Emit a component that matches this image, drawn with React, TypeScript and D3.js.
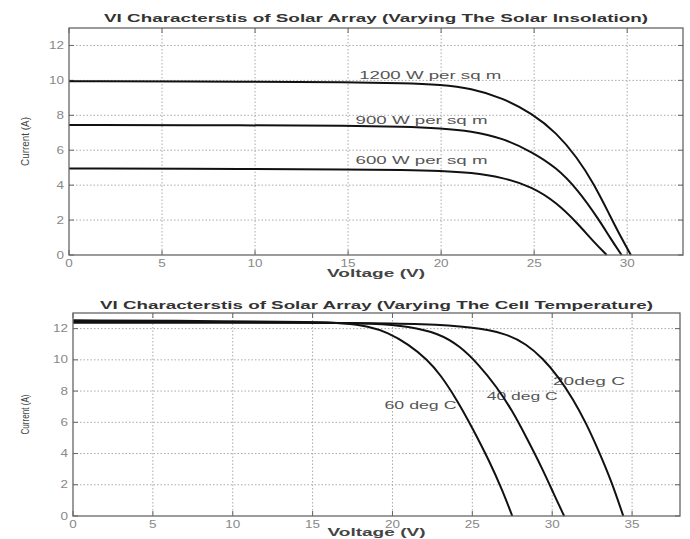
import React from 'react';
import * as d3 from 'd3';

// ---------- data ----------
// Top panel: varying insolation (Voltage V, Current A)
const insolationNames = ['1200 W per sq m', '900 W per sq m', '600 W per sq m'];
const v1200 = [0, 10, 15, 18, 20, 21.6, 23.3, 24.9, 26.2, 27.3, 28.2, 29.1, 29.7, 30.2];
const i1200 = [9.95, 9.93, 9.9, 9.85, 9.75, 9.55, 9.0, 8.1, 7.0, 5.6, 4.1, 2.2, 0.95, 0];
const v900 = [0, 10, 15, 18, 20, 21.6, 23.3, 24.9, 26.2, 27.3, 28.5, 29.1, 29.7];
const i900 = [7.45, 7.43, 7.4, 7.35, 7.25, 7.1, 6.7, 5.9, 5.0, 3.8, 2.0, 0.95, 0];
const v600 = [0, 10, 15, 18, 20, 21.6, 23.3, 24.9, 26.2, 27.3, 28.2, 28.9];
const i600 = [4.95, 4.93, 4.9, 4.87, 4.82, 4.72, 4.45, 3.9, 3.0, 1.85, 0.75, 0];

// Bottom panel: varying cell temperature
const temperatureNames = ['20deg C', '40 deg C', '60 deg C'];
const v20 = [0, 10, 18, 22, 25, 27.1, 28.4, 29.4, 30.4, 31.3, 32.1, 32.9, 33.7, 34.45];
const i20 = [12.38, 12.38, 12.37, 12.3, 12.1, 11.7, 11.0, 10.1, 8.9, 7.5, 6.0, 4.2, 2.25, 0];
const v40 = [0, 10, 15, 19, 21, 22.9, 24.2, 25.4, 26.5, 27.5, 28.4, 29.4, 30.1, 30.75];
const i40 = [12.45, 12.43, 12.4, 12.33, 12.15, 11.7, 10.9, 9.7, 8.3, 6.75, 5.0, 3.0, 1.4, 0];
const v60 = [0, 10, 15, 17, 18.5, 19.7, 21, 22.2, 23.0, 24.0, 25.0, 26.1, 26.9, 27.5];
const i60 = [12.53, 12.48, 12.42, 12.35, 12.15, 11.75, 11.0, 10.0, 9.05, 7.5, 5.65, 3.45, 1.6, 0];

const xTicksTop = [0, 5, 10, 15, 20, 25, 30];
const xTicksBottom = [0, 5, 10, 15, 20, 25, 30, 35];
const yTicks = [0, 2, 4, 6, 8, 10, 12];

const zip = (v: number[], c: number[]) => v.map((x, k) => [x, c[k]] as [number, number]);

type LabelPos = { name: string; v: number; i: number; len: number };

type PanelProps = {
  left: number; right: number; top: number; bottom: number;
  xMax: number; yMax: number; xTicks: number[];
  title: string; titleLen: number; titleY: number;
  xLabelY: number; yLabelLen: number;
  series: [number, number][][];
  labels: LabelPos[];
};

const FONT = '"Liberation Sans", Arial, Helvetica, sans-serif';

function Panel(p: PanelProps) {
  const x = d3.scaleLinear().domain([0, p.xMax]).range([p.left, p.right]);
  const y = d3.scaleLinear().domain([0, p.yMax]).range([p.bottom, p.top]);
  const line = d3.line<[number, number]>().x(d => x(d[0])).y(d => y(d[1])).curve(d3.curveBasis);
  const cx = (p.left + p.right) / 2;
  const cy = (p.top + p.bottom) / 2;
  const tickLen = 5;
  return (
    <g fontFamily={FONT}>
      <text x={cx} y={p.titleY} textAnchor="middle" fontSize={11} fontWeight="bold" fill="#333"
        textLength={p.titleLen} lengthAdjust="spacingAndGlyphs">{p.title}</text>
      {/* grid */}
      {p.xTicks.filter(t => t > 0).map(t => (
        <line key={'gx' + t} x1={x(t)} x2={x(t)} y1={p.top} y2={p.bottom} stroke="#aaa" strokeWidth={1} strokeDasharray="1.5,2" />
      ))}
      {yTicks.filter(t => t > 0).map(t => (
        <line key={'gy' + t} x1={p.left} x2={p.right} y1={y(t)} y2={y(t)} stroke="#aaa" strokeWidth={1} strokeDasharray="1.5,2" />
      ))}
      {/* ticks */}
      {p.xTicks.map(t => (
        <g key={'tx' + t}>
          <line x1={x(t)} x2={x(t)} y1={p.bottom} y2={p.bottom - tickLen} stroke="#666" />
          <line x1={x(t)} x2={x(t)} y1={p.top} y2={p.top + tickLen} stroke="#666" />
          <text transform={`translate(${x(t)},${p.bottom + 12}) scale(1.35,1)`} textAnchor="middle" fontSize={10} fill="#888">{t}</text>
        </g>
      ))}
      {yTicks.map(t => (
        <g key={'ty' + t}>
          <line x1={p.left} x2={p.left + tickLen} y1={y(t)} y2={y(t)} stroke="#666" />
          <line x1={p.right} x2={p.right - tickLen} y1={y(t)} y2={y(t)} stroke="#666" />
          <text transform={`translate(${p.left - 5},${y(t) + 3.5}) scale(1.35,1)`} textAnchor="end" fontSize={10} fill="#888">{t}</text>
        </g>
      ))}
      {/* curve labels */}
      {p.labels.map(l => (
        <text key={l.name} x={x(l.v)} y={y(l.i)} fontSize={11} fill="#555" textLength={l.len} lengthAdjust="spacingAndGlyphs">{l.name}</text>
      ))}
      {/* curves */}
      {p.series.map((s, k) => (
        <path key={'s' + k} d={line(s) || ''} fill="none" stroke="#111" strokeWidth={2} />
      ))}
      {/* box */}
      <rect x={p.left} y={p.top} width={p.right - p.left} height={p.bottom - p.top} fill="none" stroke="#666" strokeWidth={1.3} />
      {/* axis labels */}
      <text x={cx} y={p.xLabelY} textAnchor="middle" fontSize={10} fontWeight="bold" fill="#444"
        textLength={98} lengthAdjust="spacingAndGlyphs">Voltage (V)</text>
      <text transform={`translate(29,${cy}) rotate(-90)`} textAnchor="middle" fontSize={10} fill="#444"
        textLength={p.yLabelLen} lengthAdjust="spacingAndGlyphs">Current (A)</text>
    </g>
  );
}

export default function App() {
  const topSeries = [zip(v1200, i1200), zip(v900, i900), zip(v600, i600)];
  const bottomSeries = [zip(v20, i20), zip(v40, i40), zip(v60, i60)];
  const topLabels: LabelPos[] = [
    { name: insolationNames[0], v: 15.6, i: 10.08, len: 142 },
    { name: insolationNames[1], v: 15.4, i: 7.5, len: 132 },
    { name: insolationNames[2], v: 15.4, i: 5.2, len: 132 },
  ];
  const bottomLabels: LabelPos[] = [
    { name: temperatureNames[0], v: 30.05, i: 8.4, len: 72 },
    { name: temperatureNames[1], v: 25.9, i: 7.4, len: 71 },
    { name: temperatureNames[2], v: 19.5, i: 6.85, len: 72 },
  ];
  return (
    <svg width={690} height={539} style={{ position: 'absolute', left: 0, top: 0, background: '#fff' }}>
      <rect width={690} height={539} fill="#fff" />
      <Panel left={69} right={683} top={28} bottom={255} xMax={33} yMax={13} xTicks={xTicksTop}
        title="VI Characterstis of Solar Array (Varying The Solar Insolation)" titleLen={544} titleY={22}
        xLabelY={277} yLabelLen={49} series={topSeries} labels={topLabels} />
      <Panel left={73} right={680} top={313} bottom={516} xMax={38} yMax={13} xTicks={xTicksBottom}
        title="VI Characterstis of Solar Array (Varying The Cell Temperature)" titleLen={553} titleY={309}
        xLabelY={536} yLabelLen={40} series={bottomSeries} labels={bottomLabels} />
    </svg>
  );
}
